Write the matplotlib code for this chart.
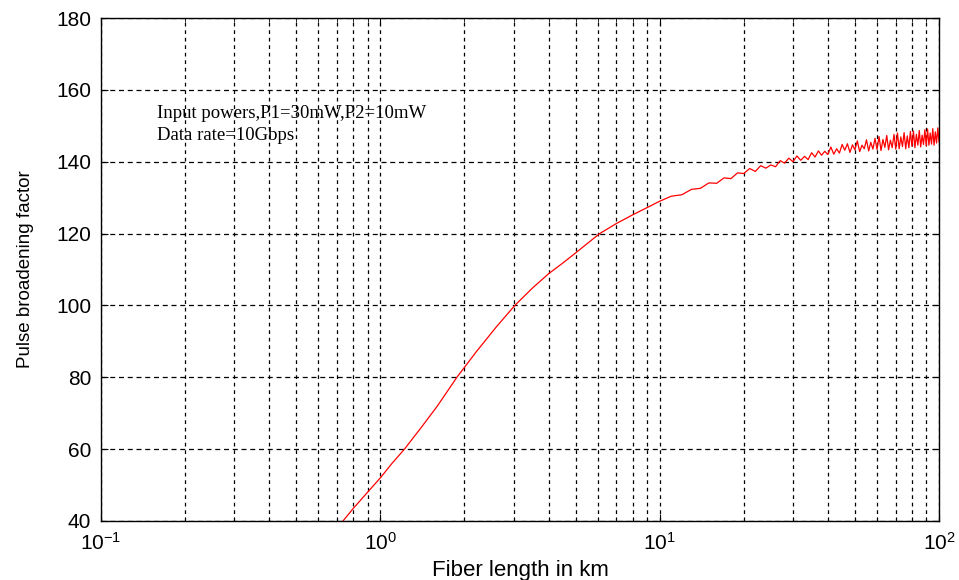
import numpy as np
import matplotlib
matplotlib.use("Agg")
import matplotlib.pyplot as plt
from matplotlib.ticker import LogLocator, NullFormatter

plt.rcParams["font.family"] = ["Liberation Sans", "DejaVu Sans"]
plt.rcParams["mathtext.default"] = "regular"

# smooth part of the curve
x_head = [0.735, 0.8, 0.9, 1.0, 1.1, 1.22, 1.4, 1.6, 1.88, 2.2, 2.6, 3.03,
          3.5, 4.0, 4.5, 5.0, 5.5, 6.1, 7.0, 8.0, 9.0]
y_head = [40, 43.5, 48, 52, 56, 60, 66, 72, 80, 87, 94, 100,
          104.8, 108.8, 111.8, 114.6, 117.2, 120, 122.8, 125.2, 127.2]

# noisy tail, one sample per km from 10 to 100
x_tail = list(range(10, 101))
y_tail = [129.0, 130.4, 130.8, 132.3, 132.6, 134.1, 134.0, 135.5, 135.3, 136.9, 136.7,
          138.1, 137.3, 138.9, 138.2, 139.1, 138.6, 140.3, 139.6, 141.0, 140.0,
          141.6, 140.4, 141.5, 140.6, 142.5, 141.3, 143.0, 141.8, 142.9, 142.0,
          144.1, 142.1, 143.6, 142.4, 144.8, 143.2, 145.0, 142.6, 144.7, 143.3,
          145.8, 142.8, 144.6, 143.6, 146.1, 143.0, 145.4, 143.5, 146.5, 143.4,
          147.0, 143.1, 146.2, 144.0, 147.3, 143.3, 146.0, 143.9, 147.6, 143.5,
          148.0, 143.6, 146.9, 144.2, 148.1, 143.6, 147.2, 143.9, 148.4, 144.3,
          148.5, 143.9, 147.6, 144.6, 148.7, 144.1, 147.4, 144.8, 148.9, 144.4,
          149.1, 144.6, 148.0, 144.9, 149.2, 144.6, 148.3, 145.2, 149.4, 145.5]

x_km = x_head + x_tail
pbf = y_head + y_tail

fig = plt.figure(figsize=(9.59, 5.8), dpi=100)
ax = fig.add_axes([101 / 959, 1 - 521 / 580, 838 / 959, 503 / 580])

ax.plot(x_km, pbf, color="#ff0000", lw=0.9)

ax.set_xscale("log")
ax.set_xlim(0.1, 100)
ax.set_ylim(40, 180)
ax.set_yticks(range(40, 181, 20))
ax.xaxis.set_major_locator(LogLocator(base=10, numticks=10))
ax.xaxis.set_minor_locator(LogLocator(base=10, subs=np.arange(2, 10), numticks=10))
ax.xaxis.set_minor_formatter(NullFormatter())

ax.grid(True, which="major", axis="y", color="black", ls=(0, (4, 3)), lw=0.9)
ax.grid(True, which="both", axis="x", color="black", ls=(0, (3, 3)), lw=0.9)

ax.tick_params(which="both", direction="in", top=True, right=True)
ax.tick_params(which="major", length=5, labelsize=15)
ax.tick_params(axis="y", pad=7)
ax.tick_params(axis="x", pad=8)
ax.tick_params(which="minor", length=3)
for s in ax.spines.values():
    s.set_linewidth(1.0)

ax.set_xlabel("Fiber length in km", fontsize=16, labelpad=4)
ax.set_ylabel("Pulse broadening factor", fontsize=13.5, labelpad=16)

ax.text(0.067, 0.801, "Input powers,P1=30mW,P2=10mW", transform=ax.transAxes,
        fontsize=13.5, family="Liberation Serif", va="baseline")
ax.text(0.067, 0.757, "Data rate=10Gbps", transform=ax.transAxes,
        fontsize=13.5, family="Liberation Serif", va="baseline")

fig.savefig("out.png", dpi=100)
